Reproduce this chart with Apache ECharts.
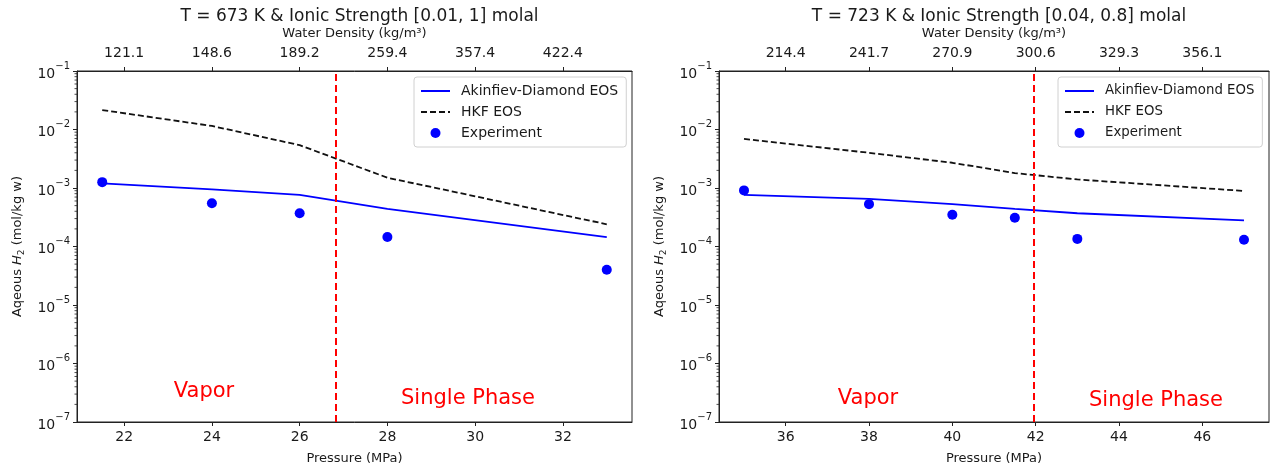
<!DOCTYPE html>
<html>
<head>
<meta charset="utf-8">
<script src="https://cdn.jsdelivr.net/npm/echarts@6/dist/echarts.min.js"></script>
<style>
html,body{margin:0;padding:0;background:#fff;}
#chart{width:1275px;height:472px;}
</style>
</head>
<body>
<div id="chart"></div>
<script>
// ---- Data ----
const pressureLeft = [21.5, 24, 26, 28, 33];
const akinfievLeft = [1.2e-3, 9.5e-4, 7.6e-4, 4.4e-4, 1.45e-4];
const hkfLeft = [2.15e-2, 1.15e-2, 5.4e-3, 1.5e-3, 2.4e-4];
const experimentLeft = [1.26e-3, 5.5e-4, 3.7e-4, 1.45e-4, 4.0e-5];

const pressureRight = [35, 38, 40, 41.5, 43, 47];
const akinfievRight = [7.6e-4, 6.5e-4, 5.3e-4, 4.4e-4, 3.7e-4, 2.8e-4];
const hkfRight = [6.9e-3, 4.0e-3, 2.7e-3, 1.8e-3, 1.4e-3, 8.9e-4];
const experimentRight = [9.1e-4, 5.3e-4, 3.5e-4, 3.1e-4, 1.35e-4, 1.3e-4];

const pressureTicksLeft = [22, 24, 26, 28, 30, 32];
const densityLabelsLeft = ['121.1', '148.6', '189.2', '259.4', '357.4', '422.4'];
const pressureTicksRight = [36, 38, 40, 42, 44, 46];
const densityLabelsRight = ['214.4', '241.7', '270.9', '300.6', '329.3', '356.1'];

const phaseBoundaryLeft = 26.82;
const phaseBoundaryRight = 41.95;

const titleLeft = 'T = 673 K & Ionic Strength [0.01, 1] molal';
const titleRight = 'T = 723 K & Ionic Strength [0.04, 0.8] molal';

// ---- Helpers ----
const FONT = 'DejaVu Sans';
const TXT = '#1a1a1a';
const zip = (xs, ys) => xs.map((x, i) => [x, ys[i]]);
const supMinus = '\u2212';
function logLabel(v) {
  const e = Math.round(Math.log10(v));
  return '{b|10}{s|' + (e < 0 ? supMinus : '') + Math.abs(e) + '}';
}
const yRich = {
  b: {fontSize: 14, fontFamily: FONT, color: TXT, lineHeight: 20, verticalAlign: 'bottom'},
  s: {fontSize: 10, fontFamily: FONT, color: TXT, lineHeight: 20, verticalAlign: 'top'}
};
const nameRich = {
  n: {fontSize: 13, fontFamily: FONT, color: TXT},
  i: {fontSize: 13, fontFamily: FONT, fontStyle: 'italic', color: TXT},
  sub: {fontSize: 9, fontFamily: FONT, color: TXT, padding: [7, 0, 0, 0]}
};

// minor tick decoration values for the log axis (2..9 x 10^n)
const minorTicks = [];
for (let e = -7; e < -1; e++) for (let m = 2; m <= 9; m++) minorTicks.push(m * Math.pow(10, e));

const gridLeft = {left: 77, top: 71, width: 555, height: 351};
const gridRight = {left: 719, top: 71, width: 550, height: 351};

function bottomAxis(gi, min, max, ticks) {
  return {
    type: 'value', gridIndex: gi, position: 'bottom', min: min, max: max,
    name: 'Pressure (MPa)', nameLocation: 'middle', nameGap: 30,
    nameTextStyle: {fontFamily: FONT, fontSize: 13, color: TXT},
    axisLine: {show: true, onZero: false, lineStyle: {color: '#222', width: 1}},
    axisTick: {show: true, length: 4, lineStyle: {color: '#222'}, customValues: ticks},
    axisLabel: {customValues: ticks, fontFamily: FONT, fontSize: 14, color: TXT, margin: 8},
    splitLine: {show: false}
  };
}
function topAxis(gi, min, max, ticks, labels) {
  return {
    type: 'value', gridIndex: gi, position: 'top', min: min, max: max,
    name: 'Water Density (kg/m\u00B3)', nameLocation: 'middle', nameGap: 31,
    nameTextStyle: {fontFamily: FONT, fontSize: 13, color: TXT},
    axisLine: {show: true, onZero: false, lineStyle: {color: '#222', width: 1}},
    axisTick: {show: true, length: 4, lineStyle: {color: '#222'}, customValues: ticks},
    axisLabel: {customValues: ticks, fontFamily: FONT, fontSize: 14, color: TXT, margin: 11,
      formatter: v => { const i = ticks.findIndex(t => Math.abs(t - v) < 1e-6); return i >= 0 ? labels[i] : ''; }},
    splitLine: {show: false}
  };
}
function yAxis(gi) {
  return {
    type: 'log', logBase: 10, gridIndex: gi, min: 1e-7, max: 1e-1,
    name: '{n|Aqeous }{i|H}{sub|2}{n| (mol/kg w)}', nameLocation: 'middle', nameGap: 51,
    nameTextStyle: {rich: nameRich},
    axisLine: {show: true, onZero: false, lineStyle: {color: '#222', width: 1}},
    axisTick: {show: true, length: 4, lineStyle: {color: '#222'}},
    axisLabel: {formatter: logLabel, rich: yRich, margin: 7},
    splitLine: {show: false}
  };
}
function minorTickSeries(xi, yi, xmin) {
  return {
    type: 'custom', xAxisIndex: xi, yAxisIndex: yi, silent: true, clip: false,
    data: minorTicks.map(v => [xmin, v]),
    renderItem: function (params, api) {
      const p = api.coord([api.value(0), api.value(1)]);
      return {type: 'line', shape: {x1: p[0] - 2.5, y1: p[1], x2: p[0], y2: p[1]},
        style: {stroke: '#222', lineWidth: 0.8}};
    },
    z: 5
  };
}
function lineSeries(name, xi, yi, data, color, dashed) {
  return {
    name: name, type: 'line', xAxisIndex: xi, yAxisIndex: yi, data: data,
    symbol: 'none', showSymbol: false, smooth: false,
    itemStyle: {color: color},
    lineStyle: {color: color, width: 1.8, type: dashed ? [6, 3] : 'solid'},
    z: 3
  };
}
function expSeries(xi, yi, data, boundary) {
  return {
    name: 'Experiment', type: 'scatter', xAxisIndex: xi, yAxisIndex: yi, data: data,
    symbol: 'circle', symbolSize: 10, itemStyle: {color: '#0000ff', opacity: 1}, z: 4,
    markLine: {
      silent: true, symbol: 'none', label: {show: false},
      lineStyle: {color: '#ff0000', width: 2, type: [7, 4]},
      data: [{xAxis: boundary}]
    }
  };
}
function legend(left, fontSize) {
  return {
    left: left, top: 77, orient: 'vertical',
    backgroundColor: '#fff', borderColor: '#d0d0d0', borderWidth: 1, borderRadius: 3,
    padding: [6, 8, 6, 6], itemWidth: 29, itemHeight: 10, itemGap: 5,
    textStyle: {fontFamily: FONT, fontSize: fontSize, lineHeight: 16, color: TXT, padding: [0, 0, 0, 6]},
    data: [
      {name: 'Akinfiev-Diamond EOS', itemStyle: {opacity: 0}},
      {name: 'HKF EOS', itemStyle: {opacity: 0}},
      {name: 'Experiment', icon: 'circle'}
    ],
    selectedMode: false
  };
}

const chart = echarts.init(document.getElementById('chart'), null, {renderer: 'canvas'});
const xl = [20.925, 33.575], xr = [34.4, 47.6];
chart.setOption({
  backgroundColor: '#fff',
  animation: false,
  title: [
    {text: titleLeft, left: gridLeft.left + gridLeft.width / 2, top: 3, textAlign: 'center',
      textStyle: {fontFamily: FONT, fontSize: 17, fontWeight: 'normal', color: TXT}},
    {text: titleRight, left: gridRight.left + gridRight.width / 2, top: 3, textAlign: 'center',
      textStyle: {fontFamily: FONT, fontSize: 17, fontWeight: 'normal', color: TXT}}
  ],
  grid: [
    Object.assign({show: true, borderColor: '#222', borderWidth: 1, backgroundColor: 'transparent'}, gridLeft),
    Object.assign({show: true, borderColor: '#222', borderWidth: 1, backgroundColor: 'transparent'}, gridRight)
  ],
  xAxis: [
    bottomAxis(0, xl[0], xl[1], pressureTicksLeft),
    topAxis(0, xl[0], xl[1], pressureTicksLeft, densityLabelsLeft),
    bottomAxis(1, xr[0], xr[1], pressureTicksRight),
    topAxis(1, xr[0], xr[1], pressureTicksRight, densityLabelsRight)
  ],
  yAxis: [yAxis(0), yAxis(1)],
  legend: [legend(414, 14), legend(1058, 13.3)],
  series: [
    lineSeries('Akinfiev-Diamond EOS', 0, 0, zip(pressureLeft, akinfievLeft), '#0000ff', false),
    lineSeries('HKF EOS', 0, 0, zip(pressureLeft, hkfLeft), '#111111', true),
    expSeries(0, 0, zip(pressureLeft, experimentLeft), phaseBoundaryLeft),
    minorTickSeries(0, 0, xl[0]),
    lineSeries('Akinfiev-Diamond EOS', 2, 1, zip(pressureRight, akinfievRight), '#0000ff', false),
    lineSeries('HKF EOS', 2, 1, zip(pressureRight, hkfRight), '#111111', true),
    expSeries(2, 1, zip(pressureRight, experimentRight), phaseBoundaryRight),
    minorTickSeries(2, 1, xr[0])
  ],
  graphic: [
    {type: 'text', x: 204, y: 392, style: {text: 'Vapor', fill: '#ff0000', font: '21px "DejaVu Sans"', textAlign: 'center', textVerticalAlign: 'middle'}},
    {type: 'text', x: 468, y: 399, style: {text: 'Single Phase', fill: '#ff0000', font: '21px "DejaVu Sans"', textAlign: 'center', textVerticalAlign: 'middle'}},
    {type: 'text', x: 868, y: 399, style: {text: 'Vapor', fill: '#ff0000', font: '21px "DejaVu Sans"', textAlign: 'center', textVerticalAlign: 'middle'}},
    {type: 'text', x: 1156, y: 401, style: {text: 'Single Phase', fill: '#ff0000', font: '21px "DejaVu Sans"', textAlign: 'center', textVerticalAlign: 'middle'}}
  ]
});
</script>
</body>
</html>
